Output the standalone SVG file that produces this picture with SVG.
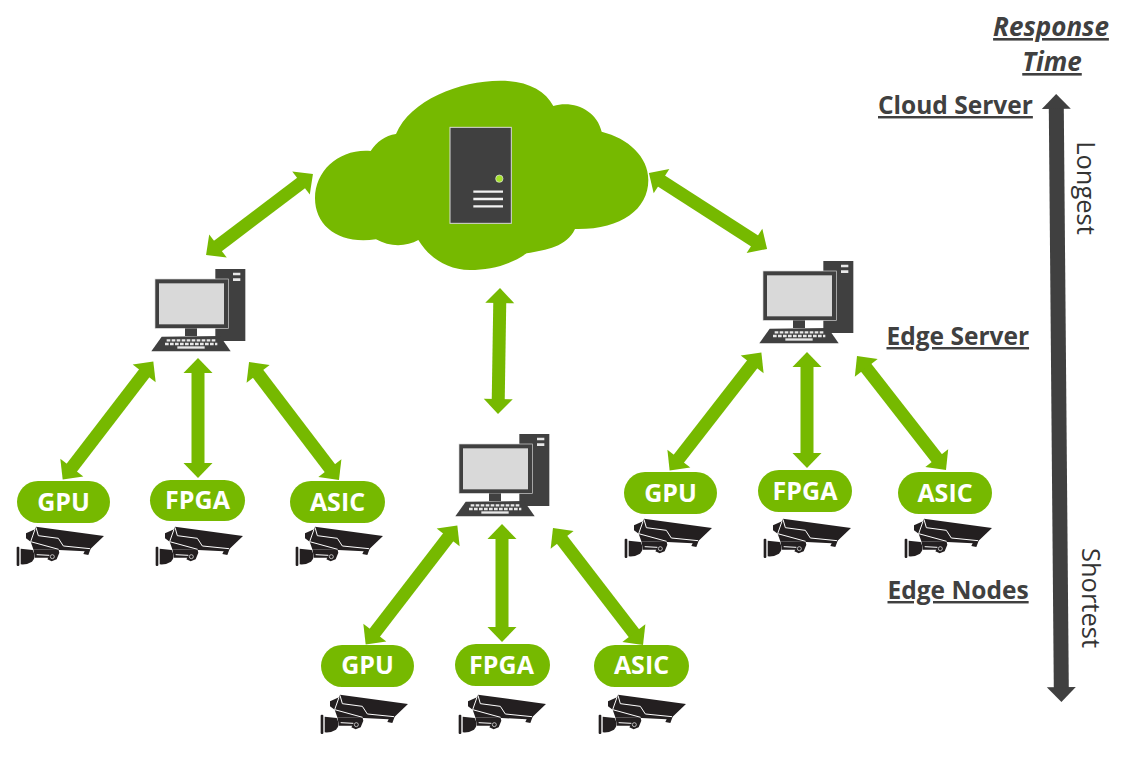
<svg xmlns="http://www.w3.org/2000/svg" xmlns:xlink="http://www.w3.org/1999/xlink" width="1131" height="775" viewBox="0 0 1131 775">
<style>
.pill{fill:#76b900}
.pt{fill:#fff;font:bold 25px "Open Sans","Liberation Sans",sans-serif;text-anchor:middle}
.lab{fill:#404040;font:bold 24.5px "Open Sans","Liberation Sans",sans-serif;text-decoration:underline}
.it{font-size:26px;font-style:italic;text-anchor:middle}
.rot{fill:#333;font:25.500px "Open Sans","Liberation Sans",sans-serif;text-anchor:middle}
.ga{stroke:#76b900;stroke-width:13;fill:none;marker-start:url(#gh);marker-end:url(#gh)}
</style>
<defs>
<marker id="gh" markerUnits="userSpaceOnUse" markerWidth="20" markerHeight="32" viewBox="0 0 20 32" refX="7" refY="16" orient="auto-start-reverse"><path d="M19 16L4 1.500V30.500Z" fill="#76b900"/></marker>
<marker id="dh" markerUnits="userSpaceOnUse" markerWidth="20" markerHeight="32" viewBox="0 0 20 32" refX="5" refY="16" orient="auto-start-reverse"><path d="M19 16L4 1.500V30.500Z" fill="#404040"/></marker>
<g id="cam">
<path d="M108 170L312 198L272 236L265 255L250 252L254 244L178 240L100 238L92 215L78 205L78 190L105 178Z" fill="#231f20"/>
<path d="M100 238L176 240L178 248L170 268L155 274L142 268L145 263L105 263Z" fill="#231f20"/>
<path d="M62 236L98 240Q110 262 96 275Q80 285 62 283Z" fill="#231f20"/>
<rect x="50" y="230" width="8" height="58" rx="3" fill="#231f20"/>
<path d="M108 172L115 197L175 205L190 228L270 236M105 178L92 215L176 238M110 254L148 256" fill="none" stroke="#fff" stroke-width="3"/>
<circle cx="157" cy="260" r="6" fill="#231f20" stroke="#fff" stroke-width="2"/>
</g>
<g id="pc">
<rect x="226" y="27" width="90" height="216" fill="#404040"/>
<path d="M279 42H301M279 59H301" stroke="#e8e8e8" stroke-width="8"/>
<rect x="45" y="57" width="220" height="148" fill="#404040" stroke="#d9d9d9" stroke-width="2"/>
<rect x="57" y="70" width="195" height="123" fill="#d9d9d9"/>
<rect x="135" y="205" width="36" height="23" fill="#404040"/>
<path d="M65 230L240 228L272 274H34Z" fill="#404040"/>
<path d="M80 241H226M75 252H232" stroke="#e8e8e8" stroke-width="7" stroke-dasharray="11 4"/>
<rect x="112" y="259" width="82" height="7" fill="#e8e8e8"/>
</g>
</defs>
<g id="connectors">
<line class="ga" x1="215.6" y1="247.8" x2="303.4" y2="181.2"/>
<line class="ga" x1="659" y1="179.5" x2="757" y2="242.5"/>
<line class="ga" x1="499.8" y1="300" x2="498.2" y2="402"/>
<line class="ga" x1="146" y1="371" x2="70" y2="470"/>
<line class="ga" x1="198" y1="370" x2="198" y2="466"/>
<line class="ga" x1="256.3" y1="371.5" x2="331.7" y2="470.5"/>
<line class="ga" x1="450" y1="535" x2="373" y2="635"/>
<line class="ga" x1="502" y1="536" x2="502" y2="630"/>
<line class="ga" x1="560.3" y1="537.5" x2="635.7" y2="635.5"/>
<line class="ga" x1="754" y1="362" x2="677" y2="461"/>
<line class="ga" x1="807" y1="364" x2="807" y2="456"/>
<line class="ga" x1="864.4" y1="365.5" x2="938.6" y2="460.5"/>
<line x1="1056.3" y1="108" x2="1061.3" y2="688" stroke="#404040" stroke-width="15" marker-start="url(#dh)" marker-end="url(#dh)"/>
</g>
<g id="cloud" transform="translate(300 70) scale(.33333)">
<path d="M288 192C330 90 480 32 600 32C680 32 735 60 760 108C820 90 890 120 905 185C985 205 1045 260 1045 330C1045 420 960 480 825 477C800 530 740 540 680 550C630 585 570 600 510 600C440 600 385 560 355 510C320 530 270 532 228 508C120 525 45 470 45 385C45 300 120 235 212 243C230 215 255 197 288 192Z" fill="#76b900"/>
<rect x="450" y="172" width="184" height="288" fill="#404040" stroke="#d9d9d9" stroke-width="3"/>
<circle cx="598" cy="326" r="11" fill="#a4e22a" stroke="#e8e8e8" stroke-width="2"/>
<path d="M520 365H609M520 387H609M520 409H609" stroke="#f2f2f2" stroke-width="7"/>
</g>
<g id="pc-left" transform="translate(140 260) scale(.33333)"><use xlink:href="#pc" href="#pc"/></g>
<g id="pc-mid" transform="translate(444 425) scale(.33333)"><use xlink:href="#pc" href="#pc"/></g>
<g id="pc-right" transform="translate(748 252) scale(.33333)"><use xlink:href="#pc" href="#pc"/></g>
<g id="left-gpu"><rect class="pill" x="17" y="481" width="93" height="42" rx="21"/><text class="pt" x="63.500" y="511">GPU</text><use href="#cam" transform="translate(0 470) scale(.33333)"/></g>
<g id="left-fpga"><rect class="pill" x="150" y="480" width="95" height="41" rx="20.500"/><text class="pt" x="197.500" y="509">FPGA</text><use href="#cam" transform="translate(139 470) scale(.33333)"/></g>
<g id="left-asic"><rect class="pill" x="290" y="481" width="95" height="42" rx="21"/><text class="pt" x="337.500" y="511">ASIC</text><use href="#cam" transform="translate(279 470) scale(.33333)"/></g>
<g id="mid-gpu"><rect class="pill" x="321" y="645" width="93" height="42" rx="21"/><text class="pt" x="367.500" y="674">GPU</text><use href="#cam" transform="translate(304 638) scale(.33333)"/></g>
<g id="mid-fpga"><rect class="pill" x="455" y="644" width="95" height="42" rx="21"/><text class="pt" x="501.500" y="674">FPGA</text><use href="#cam" transform="translate(442 638) scale(.33333)"/></g>
<g id="mid-asic"><rect class="pill" x="594" y="645" width="95" height="42" rx="21"/><text class="pt" x="641.500" y="674">ASIC</text><use href="#cam" transform="translate(582 638) scale(.33333)"/></g>
<g id="right-gpu"><rect class="pill" x="624" y="472" width="93" height="42" rx="21"/><text class="pt" x="670.500" y="502">GPU</text><use href="#cam" transform="translate(608 462) scale(.33333)"/></g>
<g id="right-fpga"><rect class="pill" x="758" y="470" width="94" height="42" rx="21"/><text class="pt" x="805" y="500">FPGA</text><use href="#cam" transform="translate(747 462) scale(.33333)"/></g>
<g id="right-asic"><rect class="pill" x="898" y="472" width="94" height="42" rx="21"/><text class="pt" x="945" y="502">ASIC</text><use href="#cam" transform="translate(888 462) scale(.33333)"/></g>
<g id="labels">
<text class="lab it" x="1051" y="36">Response</text>
<text class="lab it" x="1052" y="71">Time</text>
<text class="lab" x="878" y="114">Cloud Server</text>
<text class="lab" x="886.500" y="345">Edge Server</text>
<text class="lab" x="887.500" y="599">Edge Nodes</text>
<text class="rot" transform="translate(1077 188) rotate(90)">Longest</text>
<text class="rot" transform="translate(1082 598) rotate(90)">Shortest</text>
</g>
</svg>
